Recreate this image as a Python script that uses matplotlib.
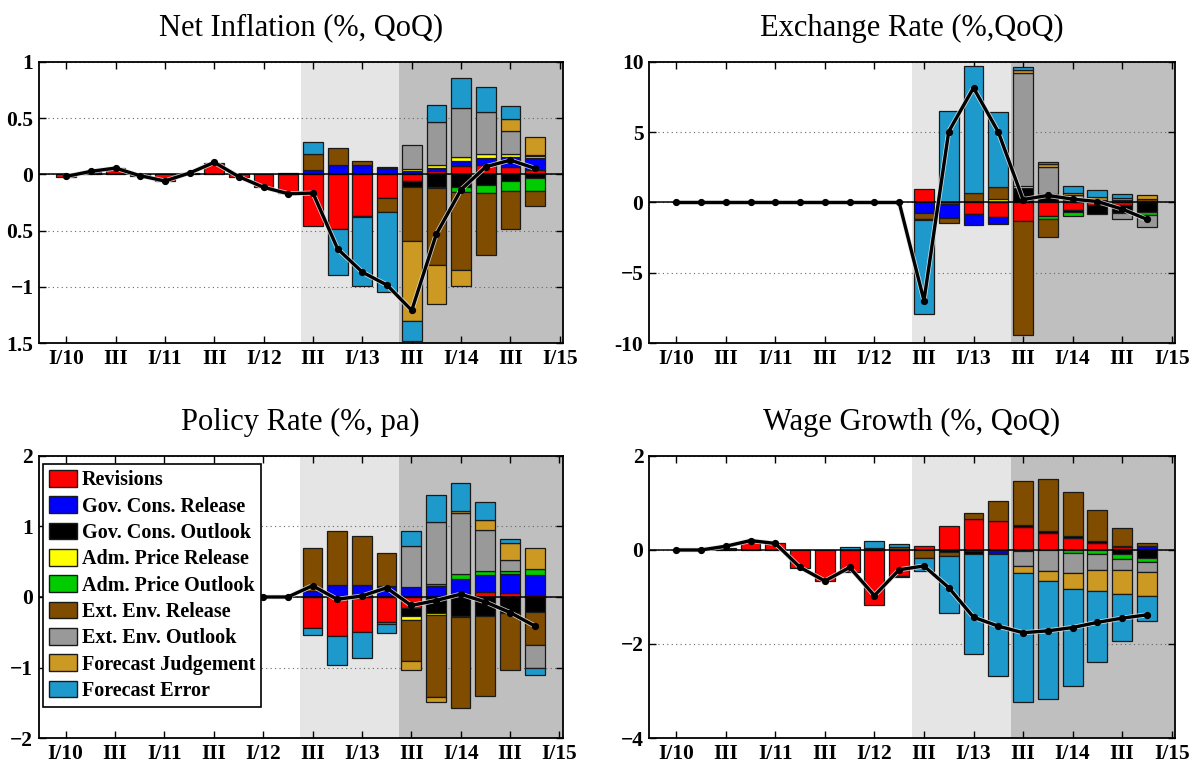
import numpy as np
import matplotlib
matplotlib.use("Agg")
import matplotlib.pyplot as plt
import matplotlib.patheffects as pe
from matplotlib.patches import Patch


# quarters I/10 .. IV/14 (bar positions 0..19), axis runs to I/15
XTICK_LABELS = ["I/10", "III", "I/11", "III", "I/12", "III",
                "I/13", "III", "I/14", "III", "I/15"]

COMPONENTS = ["Revisions", "Gov. Cons. Release", "Gov. Cons. Outlook",
              "Adm. Price Release", "Adm. Price Outlook", "Ext. Env. Release",
              "Ext. Env. Outlook", "Forecast Judgement", "Forecast Error"]
COLORS = ["#FF0000", "#0000FF", "#000000", "#FFFF00", "#00CC00",
          "#7F4C00", "#999999", "#CC9922", "#1E99CC"]

# ---- Net Inflation (%, QoQ)
INF_REV = [-0.02, 0.025, 0.055, -0.01, -0.06, 0.01, 0.105, -0.02, -0.115, -0.17,
           -0.455, -0.485, -0.367, -0.213, -0.059, 0.027, 0.074, 0.083, 0.065, 0.038]
INF_GCR = [0, 0, 0, 0, 0, 0, 0, 0, 0, 0.01,
           0.038, 0.086, 0.083, 0.056, 0.027, 0.027, 0.044, 0.062, 0.086, 0.107]
INF_GCO = [0, 0, 0, 0, 0, 0, 0, 0, 0, 0,
           0, 0, -0.015, 0.006, -0.05, -0.11, -0.11, -0.092, -0.059, -0.035]
INF_APR = [0, 0, 0, 0, 0, 0, 0, 0, 0, 0,
           0, 0, 0, 0, 0.018, 0.03, 0.036, 0.033, 0.027, 0.015]
INF_APO = [0, 0, 0, 0, 0, 0, 0, 0, 0, 0,
           0, 0, 0, 0, 0, -0.012, -0.047, -0.071, -0.086, -0.112]
INF_EER = [0, 0, 0, 0, 0, 0, 0, 0, 0, 0,
           0.142, 0.145, 0.038, -0.121, -0.488, -0.68, -0.695, -0.553, -0.337, -0.13]
INF_EEO = [0, 0, 0, 0, 0, 0, 0, 0, 0, 0,
           0, 0, 0, 0, 0.219, 0.385, 0.435, 0.373, 0.21, 0.01]
INF_FJ = [0, 0, 0, 0, 0, 0, 0, 0, 0, 0,
          0, 0, 0, 0, -0.704, -0.355, -0.139, 0, 0.109, 0.163]
INF_FE = [0, 0, 0, 0, 0, 0, 0, 0, 0, 0,
          0.104, -0.411, -0.61, -0.713, -0.178, 0.151, 0.266, 0.225, 0.107, 0]
INF_TOTAL = [-0.018, 0.027, 0.056, -0.012, -0.059, 0.012, 0.107, -0.021, -0.115, -0.172,
             -0.166, -0.663, -0.87, -0.985, -1.21, -0.53, -0.136, 0.068, 0.127, 0.053]

# ---- Exchange Rate (%,QoQ)
FX_REV = [0, 0, 0, 0, 0, 0, 0, 0, 0, 0,
          0.97, -0.1, -0.85, -1.06, -1.3, -0.97, -0.55, -0.2, -0.15, 0.05]
FX_GCR = [0, 0, 0, 0, 0, 0, 0, 0, 0, 0,
          -0.78, -0.97, -0.75, -0.45, 0, 0, 0, 0, 0, 0]
FX_GCO = [0, 0, 0, 0, 0, 0, 0, 0, 0, 0,
          0, 0, 0, 0.05, 1.0, 0.6, -0.15, -0.65, -0.6, -0.66]
FX_APR = [0, 0, 0, 0, 0, 0, 0, 0, 0, 0,
          0, 0, 0, 0.17, 0.14, 0, 0, 0, 0, 0]
FX_APO = [0, 0, 0, 0, 0, 0, 0, 0, 0, 0,
          0, 0, 0, 0, 0, -0.17, -0.25, 0, 0, -0.21]
FX_EER = [0, 0, 0, 0, 0, 0, 0, 0, 0, 0,
          -0.4, -0.38, 0.64, 0.85, -8.1, -1.3, 0.2, 0.1, 0.15, 0.2]
FX_EEO = [0, 0, 0, 0, 0, 0, 0, 0, 0, 0,
          0, 0, 0, 0, 8.1, 1.95, 0.3, 0.1, -0.4, -0.87]
FX_FJ = [0, 0, 0, 0, 0, 0, 0, 0, 0, 0,
         -0.09, 0, 0, 0, 0.2, 0.2, 0.2, 0.2, 0.15, 0.25]
FX_FE = [0, 0, 0, 0, 0, 0, 0, 0, 0, 0,
         -6.67, 6.53, 9.08, 5.4, 0.2, 0.15, 0.45, 0.5, 0.31, 0]
FX_TOTAL = [0, 0, 0, 0, 0, 0, 0, 0, 0, 0,
            -6.98, 5.05, 8.16, 5.02, 0.21, 0.5, 0.24, 0.07, -0.47, -1.2]

# ---- Policy Rate (%, pa)
PR_REV = [0, 0, 0, 0, 0, 0, 0, 0, 0, 0,
          -0.435, -0.56, -0.5, -0.36, -0.15, 0, 0.04, 0.066, 0.05, 0.03]
PR_GCR = [0, 0, 0, 0, 0, 0, 0, 0, 0, 0,
          0.08, 0.17, 0.17, 0.15, 0.14, 0.15, 0.21, 0.24, 0.27, 0.28]
PR_GCO = [0, 0, 0, 0, 0, 0, 0, 0, 0, 0,
          0, 0, 0, 0, -0.12, -0.23, -0.27, -0.265, -0.23, -0.21]
PR_APR = [0, 0, 0, 0, 0, 0, 0, 0, 0, 0,
          0, 0, 0, 0, -0.05, -0.03, -0.01, 0, 0, 0]
PR_APO = [0, 0, 0, 0, 0, 0, 0, 0, 0, 0,
          0, 0, 0, -0.03, 0, 0.03, 0.08, 0.066, 0.05, 0.09]
PR_EER = [0, 0, 0, 0, 0, 0, 0, 0, 0, 0,
          0.61, 0.77, 0.7, 0.47, -0.59, -1.16, -1.3, -1.14, -0.81, -0.47]
PR_EEO = [0, 0, 0, 0, 0, 0, 0, 0, 0, 0,
          0, 0, 0, 0, 0.58, 0.88, 0.86, 0.58, 0.15, -0.32]
PR_FJ = [0, 0, 0, 0, 0, 0, 0, 0, 0, 0,
         0, 0, 0, 0, -0.13, -0.07, 0.03, 0.14, 0.24, 0.29]
PR_FE = [0, 0, 0, 0, 0, 0, 0, 0, 0, 0,
         -0.104, -0.4, -0.36, -0.12, 0.21, 0.39, 0.39, 0.25, 0.06, -0.11]
PR_TOTAL = [0, 0, 0, 0, 0, 0, 0, 0, 0, 0,
            0.16, -0.033, 0.014, 0.13, -0.12, -0.05, 0.04, -0.07, -0.22, -0.41]

# ---- Wage Growth (%, QoQ)
WG_REV = [0, 0, 0.05, 0.18, 0.15, -0.38, -0.65, -0.47, -1.17, -0.55,
          0.09, 0.5, 0.65, 0.61, 0.49, 0.37, 0.25, 0.15, 0.06, 0.03]
WG_GCR = [0, 0, 0, 0, 0, 0, 0, 0, 0, 0,
          0, 0, -0.03, -0.07, -0.02, 0, 0, 0, 0.03, 0.06]
WG_GCO = [0, 0, 0, 0, 0, 0, 0, 0, 0, -0.03,
          0, -0.05, -0.06, -0.02, 0.05, 0.04, 0.05, 0.04, -0.09, -0.16]
WG_APR = [0, 0, 0, 0, 0, 0, 0, 0, 0, 0,
          0, 0, 0, 0, 0, 0, 0, 0, 0, 0]
WG_APO = [0, 0, 0, 0, 0, 0, 0, 0, 0, 0,
          0, 0, 0, 0, 0, 0, -0.06, -0.08, -0.1, -0.1]
WG_EER = [0, 0, 0, 0, 0, 0, 0, 0, 0.04, 0.07,
          -0.16, -0.08, 0.14, 0.43, 0.92, 1.09, 0.93, 0.67, 0.37, 0.06]
WG_EEO = [0, 0, 0, 0, 0, 0, 0, 0, 0, 0,
          0, 0, 0, 0, -0.33, -0.44, -0.42, -0.34, -0.24, -0.2]
WG_FJ = [0, 0, 0, 0, 0, 0, 0, 0, 0, 0,
         0, 0, 0, 0, -0.14, -0.23, -0.35, -0.45, -0.5, -0.52]
WG_FE = [0, 0, 0, 0, 0, 0, 0, 0.07, 0.15, 0.06,
         -0.29, -1.22, -2.12, -2.6, -2.74, -2.51, -2.06, -1.52, -1.0, -0.53]
WG_TOTAL = [0, 0, 0.08, 0.2, 0.14, -0.37, -0.66, -0.37, -0.97, -0.42,
            -0.34, -0.8, -1.43, -1.62, -1.76, -1.72, -1.65, -1.54, -1.45, -1.38]

SERIF = "Liberation Serif"
plt.rcParams["font.family"] = [SERIF, "DejaVu Serif"]


def draw_panel(ax, comps, total, title, ylim, yticks, ylabels):
    x = np.arange(len(total))
    ax.axvspan(9.5, 13.5, color="#E5E5E5", lw=0, zorder=0.1)
    ax.axvspan(13.5, 21, color="#BFBFBF", lw=0, zorder=0.1)

    pos_base = np.zeros(len(x))
    neg_base = np.zeros(len(x))
    for vals, col in zip(comps, COLORS):
        v = np.array(vals, dtype=float)
        m = v != 0
        bottom = np.where(v > 0, pos_base, neg_base)
        ax.bar(x[m], v[m], bottom=bottom[m], width=0.8, color=col,
               edgecolor="#1a1a1a", linewidth=0.9, zorder=2)
        pos_base += np.where(v > 0, v, 0)
        neg_base += np.where(v < 0, v, 0)

    ax.axhline(0, color="k", lw=1.1, zorder=2.5)
    # line with a light halo, then plain black dots on top
    ax.plot(x, total, color="k", lw=2.4, zorder=3,
            path_effects=[pe.Stroke(linewidth=3.6, foreground="#e8e8e8", alpha=0.8),
                          pe.Normal()])
    ax.plot(x, total, linestyle="none", marker="o", markersize=4.2,
            color="k", zorder=3.5)

    ax.set_xlim(-1.1, 20.13)
    ax.set_ylim(*ylim)
    ax.set_xticks(np.arange(0, 21, 2))
    ax.set_xticklabels(XTICK_LABELS)
    ax.set_yticks(yticks)
    ax.set_yticklabels(ylabels)
    ax.set_axisbelow(True)
    ax.yaxis.grid(True, linestyle=(0, (1, 3)), color="0.4", lw=0.8)
    ax.tick_params(direction="in", top=True, right=True, length=5, width=1,
                   labelsize=15.5, pad=4)
    for lab in ax.get_xticklabels() + ax.get_yticklabels():
        lab.set_fontweight("bold")
    for sp in ax.spines.values():
        sp.set_linewidth(1.3)
    ax.set_title(title, fontsize=22, pad=19)


fig = plt.figure(figsize=(12, 7.67), dpi=100)
ax1 = fig.add_axes([0.0325, 0.5528, 0.4367, 0.3664])
ax2 = fig.add_axes([0.5408, 0.5528, 0.4383, 0.3664])
ax3 = fig.add_axes([0.0321, 0.0378, 0.4367, 0.3677])
ax4 = fig.add_axes([0.5408, 0.0378, 0.4383, 0.3677])

draw_panel(ax1, [INF_REV, INF_GCR, INF_GCO, INF_APR, INF_APO, INF_EER, INF_EEO, INF_FJ, INF_FE],
           INF_TOTAL, "Net Inflation (%, QoQ)", (-1.5, 1),
           [-1.5, -1, -0.5, 0, 0.5, 1], ["1.5", "\u22121", "0.5", "0", "0.5", "1"])
draw_panel(ax2, [FX_REV, FX_GCR, FX_GCO, FX_APR, FX_APO, FX_EER, FX_EEO, FX_FJ, FX_FE],
           FX_TOTAL, "Exchange Rate (%,QoQ)", (-10, 10),
           [-10, -5, 0, 5, 10], ["-10", "\u22125", "0", "5", "10"])
draw_panel(ax3, [PR_REV, PR_GCR, PR_GCO, PR_APR, PR_APO, PR_EER, PR_EEO, PR_FJ, PR_FE],
           PR_TOTAL, "Policy Rate (%, pa)", (-2, 2),
           [-2, -1, 0, 1, 2], ["\u22122", "\u22121", "0", "1", "2"])
draw_panel(ax4, [WG_REV, WG_GCR, WG_GCO, WG_APR, WG_APO, WG_EER, WG_EEO, WG_FJ, WG_FE],
           WG_TOTAL, "Wage Growth (%, QoQ)", (-4, 2),
           [-4, -2, 0, 2], ["\u22124", "\u22122", "0", "2"])

handles = [Patch(facecolor=c, edgecolor="#1a1a1a", linewidth=1) for c in COLORS]
leg = ax3.legend(handles, COMPONENTS, loc="upper left", bbox_to_anchor=(0.009, 0.972),
                 borderaxespad=0, fancybox=False, framealpha=1, edgecolor="k",
                 prop={"family": SERIF, "weight": "bold", "size": 14.5},
                 handlelength=1.4, handleheight=0.9, handletextpad=0.2,
                 labelspacing=0.3, borderpad=0.3)
leg.get_frame().set_linewidth(1.2)
leg.set_zorder(5)

fig.savefig("out.png", dpi=100)
